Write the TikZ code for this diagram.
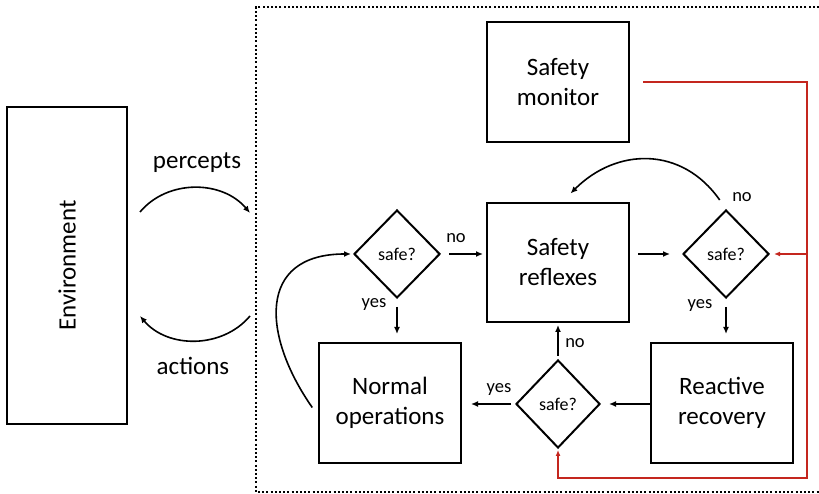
\documentclass[tikz,border=0pt]{standalone}
\usepackage{fontspec}
\setmainfont{Carlito}
\usetikzlibrary{shapes.geometric,arrows.meta}
\definecolor{rougesignal}{RGB}{196,38,30}
\begin{document}
\begin{tikzpicture}[x=1pt,y=1pt]
% Styles
\tikzstyle{fleche}=[->,>={Latex[length=7pt,width=6pt]},line width=1.6pt]
\tikzstyle{alerte}=[->,>={Latex[length=6pt,width=5pt]},line width=1.6pt,color=rougesignal]
\tikzstyle{boite}=[draw,line width=2pt,minimum width=142pt,minimum height=120pt,align=center,font=\fontsize{25}{30}\selectfont]
\tikzstyle{losange}=[draw,diamond,line width=2pt,minimum width=86pt,minimum height=88pt,inner sep=0pt,font=\fontsize{18}{21}\selectfont]
\tikzstyle{etiquette}=[inner sep=0pt,font=\fontsize{18.5}{21}\selectfont]
\tikzstyle{legende}=[inner sep=0pt,font=\fontsize{25}{30}\selectfont]
\tikzstyle{cadre}=[line width=1.7pt,dash pattern=on 2pt off 2.2pt]
% Dimensions
\def\LigneA{412}
\def\LigneB{240}
\def\LigneC{91}
\def\ColonneB{390}
\def\ColonneC{558}
\def\ColonneD{724}
\useasboundingbox (0,0) rectangle (819,494);
% Cadre
\draw[cadre] (819,487) -- (256,487) -- (256,2) -- (819,2);
% Noeuds
\node[boite,minimum width=120pt,minimum height=317pt] (Env) at (67,228.5) {\rotatebox{90}{Environment}};
\node[boite] (SM) at (\ColonneC,\LigneA) {Safety\\monitor};
\node[boite,minimum height=119pt] (SR) at (\ColonneC,231.5) {Safety\\reflexes};
\node[boite] (NO) at (\ColonneB,\LigneC) {Normal\\operations};
\node[boite] (RR) at (\ColonneD-2,\LigneC) {Reactive\\recovery};
\node[losange] (LD) at (\ColonneB+7,\LigneB) {safe?};
\node[losange] (TD) at (\ColonneD+2,\LigneB) {safe?};
\node[losange,minimum width=84pt] (BD) at (\ColonneC,\LigneC-1) {safe?};
\coordinate (PercA) at (140,282);
\coordinate (PercB) at (250,281);
\coordinate (ActA) at (250,178);
\coordinate (ActB) at (140,178);
\coordinate (Coin) at (807,16);
% Etiquettes
\node[legende] (lPerc) at (197,331) {percepts};
\node[legende] (lAct) at (193,128) {actions};
\node[etiquette] (lNonA) at (456,256) {no};
\node[etiquette] (lOuiA) at (374,189) {yes};
\node[etiquette] (lNonB) at (742,297) {no};
\node[etiquette] (lOuiB) at (700,188) {yes};
\node[etiquette] (lNonC) at (575,151) {no};
\node[etiquette] (lOuiC) at (499,104) {yes};
% Arcs
\draw[fleche] (PercA) to[out=50,in=130] (PercB);
\draw[fleche] (ActA) to[out=-130,in=-50] (ActB);
\draw[fleche,shorten <=8pt,shorten >=3pt] (LD.east) -- (LD.east -| SR.west);
\draw[fleche,shorten <=8pt,shorten >=12pt] (SR.east |- TD.west) -- (TD.west);
\draw[fleche,shorten <=8pt,shorten >=8pt] (TD.south) -- (TD.south |- RR.north);
\draw[fleche,shorten >=8pt] (RR.west |- BD.east) -- (BD.east);
\draw[fleche,shorten <=4pt,shorten >=9pt] (BD.west) -- (BD.west -| NO.east);
\draw[fleche,shorten <=3pt,shorten >=2pt] (BD.north) -- (BD.north |- SR.south);
\draw[fleche,shorten <=8pt,shorten >=8pt] (LD.south) -- (LD.south |- NO.north);
\draw[fleche,shorten <=11pt,shorten >=12pt] (TD.north) to[out=125,in=45,looseness=1.2] ([xshift=4pt]SR.north);
\draw[fleche,shorten <=10pt,shorten >=2pt] (NO.190) to[out=125,in=180,looseness=1.5] (LD.west);
\draw[alerte,shorten <=13pt,shorten >=1pt] (SM.east) -| (Coin) -| (BD.south);
\draw[alerte,shorten >=4pt] (TD.east -| Coin) -- (TD.east);
\end{tikzpicture}
\end{document}
